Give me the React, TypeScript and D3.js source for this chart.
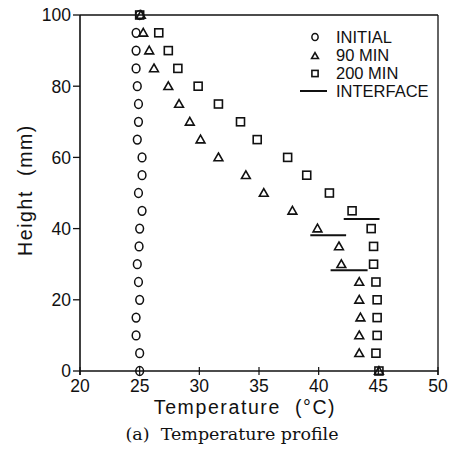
import React from "react";
import * as d3 from "d3";

// Heights (mm) at which temperatures were measured
const heights = [100, 95, 90, 85, 80, 75, 70, 65, 60, 55, 50, 45, 40, 35, 30, 25, 20, 15, 10, 5, 0];

// Temperature (°C) per height, for each profile
const initialTemps = [25.0, 24.7, 24.7, 24.7, 24.8, 24.9, 24.9, 24.8, 25.2, 25.2, 24.9, 25.2, 25.0, 24.95, 24.8, 24.9, 25.0, 24.7, 24.7, 25.0, 25.0];
const min90Temps = [25.1, 25.3, 25.8, 26.2, 27.4, 28.3, 29.2, 30.1, 31.6, 33.9, 35.4, 37.8, 39.9, 41.7, 41.9, 43.4, 43.4, 43.5, 43.4, 43.4, 45.05];
const min200Temps = [25.0, 26.6, 27.4, 28.2, 29.9, 31.6, 33.45, 34.85, 37.4, 39.0, 40.9, 42.8, 44.4, 44.6, 44.6, 44.8, 44.9, 44.9, 44.9, 44.8, 45.05];

// Interface positions: height (mm) and temperature extent (°C)
const interfaceHeights = [42.7, 38.1, 28.3];
const interfaceStart = [42.1, 39.3, 41.0];
const interfaceEnd = [45.1, 42.3, 44.1];

const xTicks = [20, 25, 30, 35, 40, 45, 50];
const yTicks = [0, 20, 40, 60, 80, 100];
const legendLabels = ["INITIAL", "90  MIN", "200  MIN", "INTERFACE"];

const W = 454;
const H = 454;
const left = 80;
const right = 438;
const top = 15;
const bottom = 371;

const x = d3.scaleLinear().domain([20, 50]).range([left, right]);
const y = d3.scaleLinear().domain([0, 100]).range([bottom, top]);

const sans = "'Liberation Sans', Arial, sans-serif";
const serif = "'DejaVu Serif', 'Liberation Serif', serif";
const ink = "#111";

function Circle({ cx, cy, r = 4.2 }: { cx: number; cy: number; r?: number }) {
  return <ellipse cx={cx} cy={cy} rx={r * 0.92} ry={r * 1.05} fill="none" stroke={ink} strokeWidth={1.5} />;
}

function Triangle({ cx, cy, s = 4.4 }: { cx: number; cy: number; s?: number }) {
  const pts = `${cx},${cy - s} ${cx + s},${cy + s * 0.75} ${cx - s},${cy + s * 0.75}`;
  return <polygon points={pts} fill="none" stroke={ink} strokeWidth={1.6} strokeLinejoin="miter" />;
}

function Square({ cx, cy, s = 4 }: { cx: number; cy: number; s?: number }) {
  return <rect x={cx - s} y={cy - s} width={2 * s} height={2 * s} fill="none" stroke={ink} strokeWidth={1.6} />;
}

export default function App() {
  return (
    <svg width={W} height={H} style={{ position: "absolute", left: 0, top: 0, background: "#fff" }}>
      <rect width={W} height={H} fill="#fff" />
      {/* frame */}
      <line x1={left} y1={top} x2={right} y2={top} stroke={ink} strokeWidth={1.3} />
      <line x1={right} y1={top} x2={right} y2={bottom + 4} stroke={ink} strokeWidth={1.3} />
      <line x1={left} y1={top} x2={left} y2={bottom + 4} stroke={ink} strokeWidth={1.6} />
      <line x1={left} y1={bottom} x2={right} y2={bottom} stroke={ink} strokeWidth={1.6} />

      {/* y ticks */}
      {yTicks.map((t) => (
        <g key={`y${t}`}>
          <line x1={left - 7} x2={left} y1={y(t)} y2={y(t)} stroke={ink} strokeWidth={1.3} />
          <text x={left - 9} y={y(t)} dy="0.36em" textAnchor="end" fontFamily={sans} fontSize={17.5} fill={ink}>
            {t}
          </text>
        </g>
      ))}

      {/* x ticks */}
      {xTicks.map((t) => (
        <g key={`x${t}`}>
          <line x1={x(t)} x2={x(t)} y1={bottom - 4} y2={bottom + 4} stroke={ink} strokeWidth={1.2} />
          <text x={x(t)} y={bottom + 21} textAnchor="middle" fontFamily={sans} fontSize={17.5} fill={ink}>
            {t}
          </text>
        </g>
      ))}

      {/* axis titles */}
      <text
        x={245}
        y={414}
        textAnchor="middle"
        fontFamily={sans}
        fontSize={19.5}
        letterSpacing={1.6}
        fill={ink}
        style={{ whiteSpace: "pre" }}
      >
        {"Temperature  (°C)"}
      </text>
      <text
        transform={`translate(32, ${190}) rotate(-90)`}
        textAnchor="middle"
        fontFamily={sans}
        fontSize={19.5}
        letterSpacing={1.6}
        fill={ink}
        style={{ whiteSpace: "pre" }}
      >
        {"Height  (mm)"}
      </text>
      <text
        x={232}
        y={440}
        textAnchor="middle"
        fontFamily={serif}
        fontSize={17.5}
        fill={ink}
        style={{ whiteSpace: "pre" }}
      >
        {"(a)  Temperature profile"}
      </text>

      {/* data */}
      {heights.map((h, i) => (
        <Circle key={`c${i}`} cx={x(initialTemps[i])} cy={y(h)} />
      ))}
      {heights.map((h, i) => (
        <Triangle key={`t${i}`} cx={x(min90Temps[i])} cy={y(h)} />
      ))}
      {heights.map((h, i) => (
        <Square key={`s${i}`} cx={x(min200Temps[i])} cy={y(h)} />
      ))}
      {interfaceHeights.map((h, i) => (
        <line
          key={`i${i}`}
          x1={x(interfaceStart[i])}
          x2={x(interfaceEnd[i])}
          y1={y(h)}
          y2={y(h)}
          stroke={ink}
          strokeWidth={2}
        />
      ))}

      {/* legend */}
      <g fontFamily={sans} fontSize={16.5} fill={ink} style={{ whiteSpace: "pre" }}>
        <Circle cx={315} cy={37} r={3.4} />
        <text x={336} y={37} dy="0.36em">{legendLabels[0]}</text>
        <Triangle cx={315} cy={56} s={3.4} />
        <text x={336} y={55} dy="0.36em">{legendLabels[1]}</text>
        <Square cx={315} cy={73.5} s={3.1} />
        <text x={336} y={73} dy="0.36em">{legendLabels[2]}</text>
        <line x1={300} x2={327} y1={91} y2={91} stroke={ink} strokeWidth={2} />
        <text x={336} y={91} dy="0.36em">{legendLabels[3]}</text>
      </g>
    </svg>
  );
}
